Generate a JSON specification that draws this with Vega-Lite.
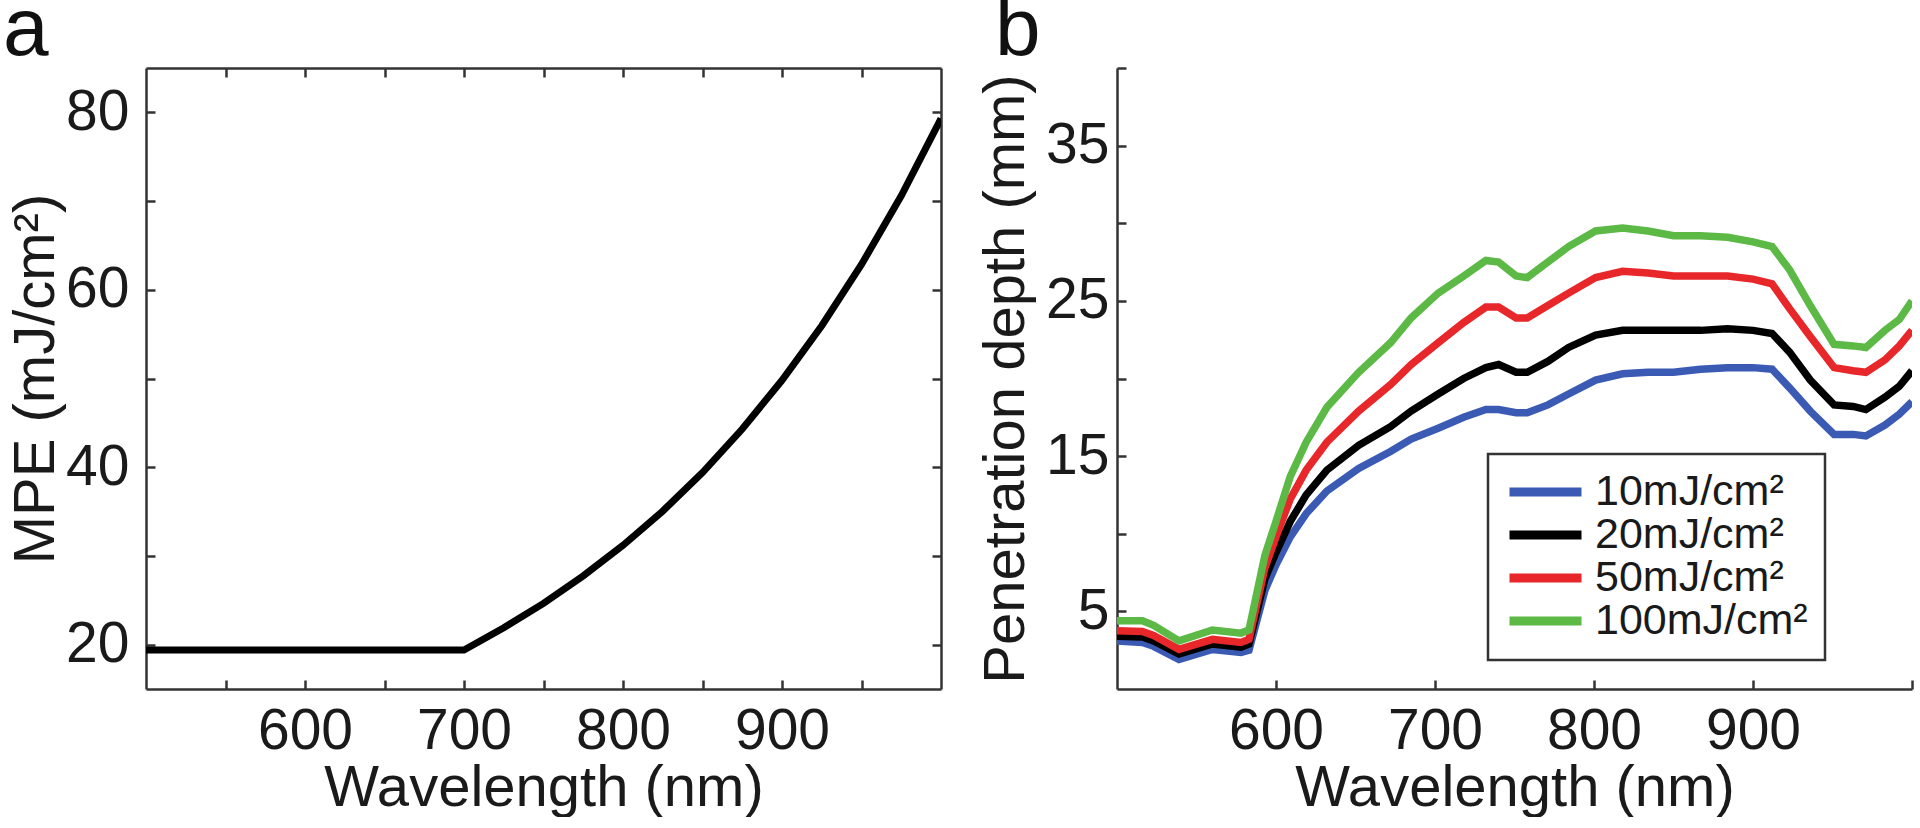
{
  "$schema": "https://vega.github.io/schema/vega-lite/v6.json",
  "padding": {"left": 3, "top": -12, "right": 0, "bottom": 0},
  "spacing": 34,
  "resolve": {"legend": {"color": "independent"}},
  "config": {
    "font": "Liberation Sans",
    "view": {"stroke": null},
    "axis": {
      "domainColor": "#333333", "domainWidth": 2.5,
      "tickColor": "#333333", "tickWidth": 2.5, "tickSize": -9,
      "labelFontSize": 57, "titleFontSize": 58, "labelColor": "#1a1a1a", "titleColor": "#1a1a1a",
      "titleFontWeight": "normal", "grid": false, "labelFont": "Liberation Sans", "titleFont": "Liberation Sans"
    },
    "title": {"fontWeight": "normal", "fontSize": 82, "color": "#111111"}
  },
  "datasets": {
    "mpe": [
      {"wl": 500, "mpe": 19.4}, {"wl": 550, "mpe": 19.4}, {"wl": 600, "mpe": 19.4}, {"wl": 650, "mpe": 19.4},
      {"wl": 700, "mpe": 19.4}, {"wl": 725, "mpe": 21.9}, {"wl": 750, "mpe": 24.65}, {"wl": 775, "mpe": 27.75},
      {"wl": 800, "mpe": 31.2}, {"wl": 825, "mpe": 35.05}, {"wl": 850, "mpe": 39.4}, {"wl": 875, "mpe": 44.3},
      {"wl": 900, "mpe": 49.8}, {"wl": 925, "mpe": 55.95}, {"wl": 950, "mpe": 62.85}, {"wl": 975, "mpe": 70.6},
      {"wl": 1000, "mpe": 79.3}
    ],
    "pd": [
      {"wl":500,"s":"10mJ/cm²","d":3.1},{"wl":516,"s":"10mJ/cm²","d":3.0},{"wl":523,"s":"10mJ/cm²","d":2.75},{"wl":539,"s":"10mJ/cm²","d":1.9},{"wl":560,"s":"10mJ/cm²","d":2.55},{"wl":578,"s":"10mJ/cm²","d":2.35},{"wl":583,"s":"10mJ/cm²","d":2.5},{"wl":593,"s":"10mJ/cm²","d":6.35},{"wl":600,"s":"10mJ/cm²","d":8.0},{"wl":609,"s":"10mJ/cm²","d":9.8},{"wl":619,"s":"10mJ/cm²","d":11.3},{"wl":632,"s":"10mJ/cm²","d":12.75},{"wl":652,"s":"10mJ/cm²","d":14.2},{"wl":672,"s":"10mJ/cm²","d":15.3},{"wl":685,"s":"10mJ/cm²","d":16.1},{"wl":702,"s":"10mJ/cm²","d":16.8},{"wl":718,"s":"10mJ/cm²","d":17.5},{"wl":732,"s":"10mJ/cm²","d":18.0},{"wl":740,"s":"10mJ/cm²","d":18.0},{"wl":751,"s":"10mJ/cm²","d":17.8},{"wl":758,"s":"10mJ/cm²","d":17.8},{"wl":771,"s":"10mJ/cm²","d":18.3},{"wl":784,"s":"10mJ/cm²","d":19.0},{"wl":801,"s":"10mJ/cm²","d":19.9},{"wl":818,"s":"10mJ/cm²","d":20.3},{"wl":834,"s":"10mJ/cm²","d":20.4},{"wl":850,"s":"10mJ/cm²","d":20.4},{"wl":867,"s":"10mJ/cm²","d":20.6},{"wl":884,"s":"10mJ/cm²","d":20.7},{"wl":900,"s":"10mJ/cm²","d":20.7},{"wl":912,"s":"10mJ/cm²","d":20.6},{"wl":923,"s":"10mJ/cm²","d":19.4},{"wl":936,"s":"10mJ/cm²","d":17.9},{"wl":951,"s":"10mJ/cm²","d":16.4},{"wl":963,"s":"10mJ/cm²","d":16.4},{"wl":971,"s":"10mJ/cm²","d":16.3},{"wl":983,"s":"10mJ/cm²","d":17.0},{"wl":992,"s":"10mJ/cm²","d":17.7},{"wl":1000,"s":"10mJ/cm²","d":18.5},
      {"wl":500,"s":"20mJ/cm²","d":3.4},{"wl":516,"s":"20mJ/cm²","d":3.35},{"wl":523,"s":"20mJ/cm²","d":3.1},{"wl":539,"s":"20mJ/cm²","d":2.25},{"wl":560,"s":"20mJ/cm²","d":2.9},{"wl":578,"s":"20mJ/cm²","d":2.7},{"wl":583,"s":"20mJ/cm²","d":2.9},{"wl":593,"s":"20mJ/cm²","d":7.1},{"wl":600,"s":"20mJ/cm²","d":8.8},{"wl":609,"s":"20mJ/cm²","d":10.8},{"wl":619,"s":"20mJ/cm²","d":12.5},{"wl":632,"s":"20mJ/cm²","d":14.1},{"wl":652,"s":"20mJ/cm²","d":15.7},{"wl":672,"s":"20mJ/cm²","d":16.9},{"wl":685,"s":"20mJ/cm²","d":17.9},{"wl":702,"s":"20mJ/cm²","d":19.0},{"wl":718,"s":"20mJ/cm²","d":20.0},{"wl":732,"s":"20mJ/cm²","d":20.7},{"wl":740,"s":"20mJ/cm²","d":20.9},{"wl":751,"s":"20mJ/cm²","d":20.4},{"wl":758,"s":"20mJ/cm²","d":20.4},{"wl":771,"s":"20mJ/cm²","d":21.1},{"wl":784,"s":"20mJ/cm²","d":22.0},{"wl":801,"s":"20mJ/cm²","d":22.8},{"wl":818,"s":"20mJ/cm²","d":23.1},{"wl":834,"s":"20mJ/cm²","d":23.1},{"wl":850,"s":"20mJ/cm²","d":23.1},{"wl":867,"s":"20mJ/cm²","d":23.1},{"wl":884,"s":"20mJ/cm²","d":23.2},{"wl":900,"s":"20mJ/cm²","d":23.1},{"wl":912,"s":"20mJ/cm²","d":22.9},{"wl":923,"s":"20mJ/cm²","d":21.7},{"wl":936,"s":"20mJ/cm²","d":19.9},{"wl":951,"s":"20mJ/cm²","d":18.3},{"wl":963,"s":"20mJ/cm²","d":18.2},{"wl":971,"s":"20mJ/cm²","d":18.0},{"wl":983,"s":"20mJ/cm²","d":18.8},{"wl":992,"s":"20mJ/cm²","d":19.5},{"wl":1000,"s":"20mJ/cm²","d":20.5},
      {"wl":500,"s":"50mJ/cm²","d":3.75},{"wl":516,"s":"50mJ/cm²","d":3.7},{"wl":523,"s":"50mJ/cm²","d":3.45},{"wl":539,"s":"50mJ/cm²","d":2.55},{"wl":560,"s":"50mJ/cm²","d":3.2},{"wl":578,"s":"50mJ/cm²","d":3.0},{"wl":583,"s":"50mJ/cm²","d":3.2},{"wl":593,"s":"50mJ/cm²","d":7.8},{"wl":600,"s":"50mJ/cm²","d":9.8},{"wl":609,"s":"50mJ/cm²","d":12.25},{"wl":619,"s":"50mJ/cm²","d":14.1},{"wl":632,"s":"50mJ/cm²","d":15.9},{"wl":652,"s":"50mJ/cm²","d":17.9},{"wl":672,"s":"50mJ/cm²","d":19.6},{"wl":685,"s":"50mJ/cm²","d":20.9},{"wl":702,"s":"50mJ/cm²","d":22.3},{"wl":718,"s":"50mJ/cm²","d":23.6},{"wl":732,"s":"50mJ/cm²","d":24.6},{"wl":740,"s":"50mJ/cm²","d":24.6},{"wl":751,"s":"50mJ/cm²","d":23.9},{"wl":758,"s":"50mJ/cm²","d":23.9},{"wl":771,"s":"50mJ/cm²","d":24.7},{"wl":784,"s":"50mJ/cm²","d":25.5},{"wl":801,"s":"50mJ/cm²","d":26.5},{"wl":818,"s":"50mJ/cm²","d":26.9},{"wl":834,"s":"50mJ/cm²","d":26.8},{"wl":850,"s":"50mJ/cm²","d":26.6},{"wl":867,"s":"50mJ/cm²","d":26.6},{"wl":884,"s":"50mJ/cm²","d":26.6},{"wl":900,"s":"50mJ/cm²","d":26.4},{"wl":912,"s":"50mJ/cm²","d":26.1},{"wl":923,"s":"50mJ/cm²","d":24.5},{"wl":936,"s":"50mJ/cm²","d":22.7},{"wl":951,"s":"50mJ/cm²","d":20.7},{"wl":963,"s":"50mJ/cm²","d":20.5},{"wl":971,"s":"50mJ/cm²","d":20.4},{"wl":983,"s":"50mJ/cm²","d":21.2},{"wl":992,"s":"50mJ/cm²","d":22.1},{"wl":1000,"s":"50mJ/cm²","d":23.1},
      {"wl":500,"s":"100mJ/cm²","d":4.4},{"wl":516,"s":"100mJ/cm²","d":4.4},{"wl":523,"s":"100mJ/cm²","d":4.1},{"wl":539,"s":"100mJ/cm²","d":3.1},{"wl":560,"s":"100mJ/cm²","d":3.8},{"wl":578,"s":"100mJ/cm²","d":3.6},{"wl":583,"s":"100mJ/cm²","d":3.8},{"wl":593,"s":"100mJ/cm²","d":8.6},{"wl":600,"s":"100mJ/cm²","d":10.8},{"wl":609,"s":"100mJ/cm²","d":13.7},{"wl":619,"s":"100mJ/cm²","d":15.9},{"wl":632,"s":"100mJ/cm²","d":18.15},{"wl":652,"s":"100mJ/cm²","d":20.4},{"wl":672,"s":"100mJ/cm²","d":22.3},{"wl":685,"s":"100mJ/cm²","d":23.9},{"wl":702,"s":"100mJ/cm²","d":25.5},{"wl":718,"s":"100mJ/cm²","d":26.6},{"wl":732,"s":"100mJ/cm²","d":27.6},{"wl":740,"s":"100mJ/cm²","d":27.5},{"wl":751,"s":"100mJ/cm²","d":26.6},{"wl":758,"s":"100mJ/cm²","d":26.5},{"wl":771,"s":"100mJ/cm²","d":27.5},{"wl":784,"s":"100mJ/cm²","d":28.5},{"wl":801,"s":"100mJ/cm²","d":29.5},{"wl":818,"s":"100mJ/cm²","d":29.7},{"wl":834,"s":"100mJ/cm²","d":29.5},{"wl":850,"s":"100mJ/cm²","d":29.2},{"wl":867,"s":"100mJ/cm²","d":29.2},{"wl":884,"s":"100mJ/cm²","d":29.1},{"wl":900,"s":"100mJ/cm²","d":28.8},{"wl":912,"s":"100mJ/cm²","d":28.5},{"wl":923,"s":"100mJ/cm²","d":27.0},{"wl":936,"s":"100mJ/cm²","d":24.7},{"wl":951,"s":"100mJ/cm²","d":22.2},{"wl":963,"s":"100mJ/cm²","d":22.1},{"wl":971,"s":"100mJ/cm²","d":22.0},{"wl":983,"s":"100mJ/cm²","d":23.1},{"wl":992,"s":"100mJ/cm²","d":23.8},{"wl":1000,"s":"100mJ/cm²","d":25.0}
    ]
  },
  "hconcat": [
    {
      "width": 795, "height": 621,
      "title": {"text": "a", "anchor": "start", "frame": "group", "dx": -143, "offset": -70, "baseline": "alphabetic"},
      "data": {"name": "mpe"},
      "layer": [
        {
          "mark": {"type": "line", "color": "#000000", "strokeWidth": 7, "clip": true},
          "encoding": {
            "x": {"field": "wl", "type": "quantitative", "scale": {"domain": [500, 1000], "nice": false, "zero": false},
              "axis": {"values": [550, 600, 650, 700, 750, 800, 850, 900, 950], "labelExpr": "datum.value % 100 == 0 ? datum.label : ''", "title": "Wavelength (nm)", "labelPadding": 23, "titlePadding": 0}},
            "y": {"field": "mpe", "type": "quantitative", "scale": {"domain": [15, 85], "nice": false, "zero": false},
              "axis": {"values": [20, 30, 40, 50, 60, 70, 80], "labelExpr": "datum.value % 20 == 0 ? datum.label : ''", "title": "MPE (mJ/cm²)", "labelPadding": 26, "titlePadding": 0}}
          }
        },
        {
          "mark": {"type": "line", "strokeOpacity": 0},
          "encoding": {
            "x": {"field": "wl", "type": "quantitative", "axis": {"orient": "top", "values": [550, 600, 650, 700, 750, 800, 850, 900, 950], "labels": false, "title": null}},
            "y": {"field": "mpe", "type": "quantitative", "axis": {"orient": "right", "values": [20, 30, 40, 50, 60, 70, 80], "labels": false, "title": null}}
          }
        }
      ],
      "resolve": {"axis": {"x": "independent", "y": "independent"}}
    },
    {
      "width": 795, "height": 621,
      "title": {"text": "b", "anchor": "start", "frame": "group", "dx": -122, "offset": -70, "baseline": "alphabetic"},
      "data": {"name": "pd"},
      "mark": {"type": "line", "strokeWidth": 7.5, "clip": true},
      "encoding": {
        "x": {"field": "wl", "type": "quantitative", "scale": {"domain": [500, 1000], "nice": false, "zero": false},
          "axis": {"values": [600, 700, 800, 900, 1000], "labelExpr": "datum.value < 1000 ? datum.label : ''", "title": "Wavelength (nm)", "labelPadding": 23, "titlePadding": 0}},
        "y": {"field": "d", "type": "quantitative", "scale": {"domain": [0, 40], "nice": false, "zero": false},
          "axis": {"values": [5, 10, 15, 20, 25, 30, 35, 40], "labelExpr": "datum.value % 10 == 5 ? datum.label : ''", "title": "Penetration depth (mm)", "labelPadding": 17, "titlePadding": 10}},
        "color": {"field": "s", "type": "nominal",
          "scale": {"domain": ["10mJ/cm²", "20mJ/cm²", "50mJ/cm²", "100mJ/cm²"], "range": ["#3a5ab4", "#000000", "#e8272a", "#5cb946"]},
          "legend": {"title": null, "orient": "none", "legendX": 371, "legendY": 386, "strokeColor": "#333333", "fillColor": "#ffffff", "padding": 17,
            "symbolType": "stroke", "symbolSize": 5184, "symbolStrokeWidth": 9, "clipHeight": 42, "labelFontSize": 43, "labelOffset": 9, "rowPadding": 0, "labelLimit": 0, "labelColor": "#1a1a1a",
            "encode": {"legend": {"update": {"strokeWidth": {"value": 2.5}}}}}}
      }
    }
  ]
}
